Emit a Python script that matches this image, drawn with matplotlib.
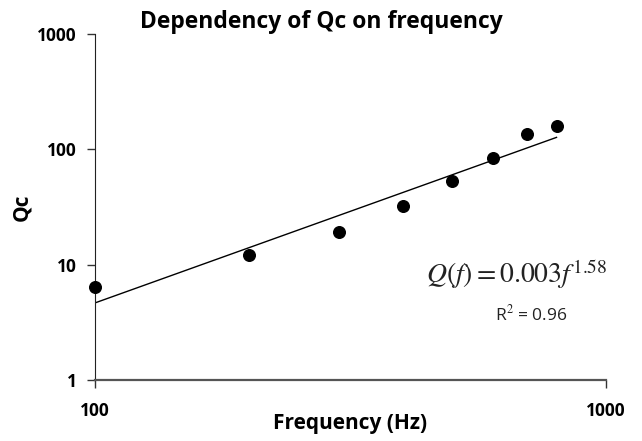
import numpy as np
import matplotlib.pyplot as plt
from matplotlib.ticker import FixedLocator, NullLocator

# measured Qc values
freq = [100, 200, 300, 400, 500, 600, 700, 800]
qc = [6.4, 12.2, 19.4, 32.6, 53.7, 83.5, 135, 158]

# power-law trendline end points
trend_f = [100, 800]
trend_q = [4.67, 127]

xticks = [100, 1000]
yticks = [1, 10, 100, 1000]

plt.rcParams['mathtext.fontset'] = 'stix'

fig = plt.figure(figsize=(6.42, 4.41), dpi=100)
ax = fig.add_axes([0.148, 0.138, 0.796, 0.785])

ax.plot(trend_f, trend_q, color='black', lw=1.0)
ax.scatter(freq, qc, s=70, color='black', zorder=3, clip_on=False)

ax.set_xscale('log')
ax.set_yscale('log')
ax.set_xlim(100, 1000)
ax.set_ylim(1, 1000)
ax.xaxis.set_major_locator(FixedLocator(xticks))
ax.yaxis.set_major_locator(FixedLocator(yticks))
ax.xaxis.set_minor_locator(NullLocator())
ax.yaxis.set_minor_locator(NullLocator())
ax.set_xticklabels([str(t) for t in xticks])
ax.set_yticklabels([str(t) for t in yticks])

for s in ['top', 'right']:
    ax.spines[s].set_visible(False)
ax.spines['left'].set_color('#222222')
ax.spines['bottom'].set_color('#555555')
ax.spines['bottom'].set_linewidth(1.6)
ax.tick_params(axis='both', direction='out', length=6, width=1.0, colors='#333333')
ax.tick_params(axis='x', pad=10)
ax.tick_params(axis='y', pad=7)
for lab in ax.get_xticklabels() + ax.get_yticklabels():
    lab.set_fontfamily('Open Sans')
    lab.set_fontweight('bold')
    lab.set_fontsize(12.5)
    lab.set_color('black')

ax.set_title('Dependency of Qc on frequency', fontfamily='Open Sans', fontweight='bold',
             fontsize=16.5, pad=2, x=0.442)
ax.set_xlabel('Frequency (Hz)', fontfamily='Open Sans', fontweight='bold', fontsize=15,
              labelpad=-5)
ax.set_ylabel('Qc', fontfamily='Open Sans', fontweight='bold', fontsize=15, labelpad=4)

ax.text(0.826, 0.305, r'$Q\left(f\right) = 0.003f^{1.58}$', transform=ax.transAxes,
        fontsize=20, ha='center', va='center', color='#222222')
ax.text(0.853, 0.19, r'R$^2$ = 0.96', transform=ax.transAxes, fontfamily='Open Sans',
        fontsize=12.5, ha='center', va='center', color='#222222')

fig.savefig('out.png', dpi=100)
